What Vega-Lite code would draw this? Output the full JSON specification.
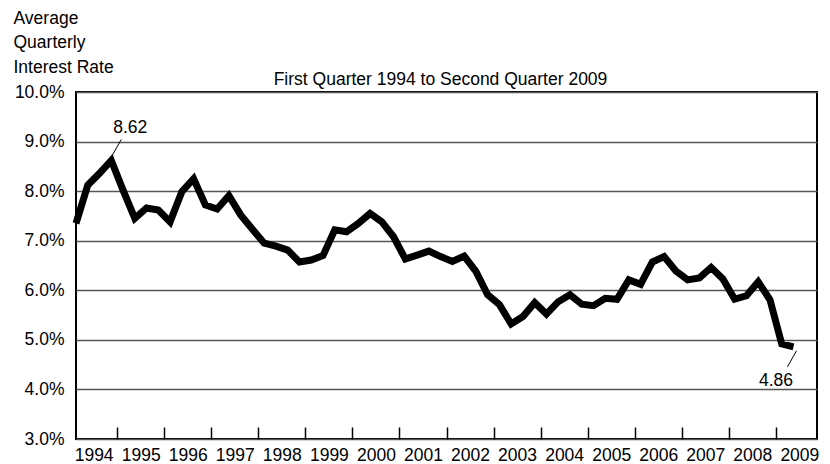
{
  "$schema": "https://vega.github.io/schema/vega-lite/v6.json",
  "width": 741,
  "height": 347,
  "autosize": {"type": "none"},
  "padding": {"left": 76, "top": 92, "right": 13, "bottom": 25},
  "background": "white",
  "config": {
    "font": "Liberation Sans",
    "view": {"stroke": "black", "strokeWidth": 2}
  },
  "title": {
    "text": "First Quarter 1994 to Second Quarter 2009",
    "font": "Liberation Sans",
    "fontSize": 17.5,
    "fontWeight": "normal",
    "color": "black",
    "anchor": "middle",
    "frame": "group",
    "offset": -79,
    "dx": -6
  },
  "datasets": {
    "rates": [
      {"t": 1994.125, "rate": 7.35}, {"t": 1994.375, "rate": 8.12}, {"t": 1994.625, "rate": 8.36}, {"t": 1994.875, "rate": 8.62},
      {"t": 1995.125, "rate": 8.02}, {"t": 1995.375, "rate": 7.45}, {"t": 1995.625, "rate": 7.66}, {"t": 1995.875, "rate": 7.62},
      {"t": 1996.125, "rate": 7.38}, {"t": 1996.375, "rate": 7.99}, {"t": 1996.625, "rate": 8.25}, {"t": 1996.875, "rate": 7.72},
      {"t": 1997.125, "rate": 7.64}, {"t": 1997.375, "rate": 7.91}, {"t": 1997.625, "rate": 7.52}, {"t": 1997.875, "rate": 7.23},
      {"t": 1998.125, "rate": 6.95}, {"t": 1998.375, "rate": 6.89}, {"t": 1998.625, "rate": 6.81}, {"t": 1998.875, "rate": 6.57},
      {"t": 1999.125, "rate": 6.61}, {"t": 1999.375, "rate": 6.70}, {"t": 1999.625, "rate": 7.22}, {"t": 1999.875, "rate": 7.18},
      {"t": 2000.125, "rate": 7.35}, {"t": 2000.375, "rate": 7.55}, {"t": 2000.625, "rate": 7.38}, {"t": 2000.875, "rate": 7.08},
      {"t": 2001.125, "rate": 6.63}, {"t": 2001.375, "rate": 6.71}, {"t": 2001.625, "rate": 6.79}, {"t": 2001.875, "rate": 6.68},
      {"t": 2002.125, "rate": 6.58}, {"t": 2002.375, "rate": 6.69}, {"t": 2002.625, "rate": 6.38}, {"t": 2002.875, "rate": 5.91},
      {"t": 2003.125, "rate": 5.71}, {"t": 2003.375, "rate": 5.32}, {"t": 2003.625, "rate": 5.47}, {"t": 2003.875, "rate": 5.75},
      {"t": 2004.125, "rate": 5.52}, {"t": 2004.375, "rate": 5.77}, {"t": 2004.625, "rate": 5.91}, {"t": 2004.875, "rate": 5.72},
      {"t": 2005.125, "rate": 5.69}, {"t": 2005.375, "rate": 5.84}, {"t": 2005.625, "rate": 5.82}, {"t": 2005.875, "rate": 6.21},
      {"t": 2006.125, "rate": 6.12}, {"t": 2006.375, "rate": 6.57}, {"t": 2006.625, "rate": 6.68}, {"t": 2006.875, "rate": 6.39},
      {"t": 2007.125, "rate": 6.21}, {"t": 2007.375, "rate": 6.25}, {"t": 2007.625, "rate": 6.46}, {"t": 2007.875, "rate": 6.23},
      {"t": 2008.125, "rate": 5.82}, {"t": 2008.375, "rate": 5.89}, {"t": 2008.625, "rate": 6.17}, {"t": 2008.875, "rate": 5.81},
      {"t": 2009.125, "rate": 4.92}, {"t": 2009.375, "rate": 4.86}
    ]
  },
  "layer": [
    {
      "data": {"name": "rates"},
      "mark": {"type": "line", "color": "black", "strokeWidth": 7, "strokeJoin": "miter", "strokeCap": "butt"},
      "encoding": {
        "x": {
          "field": "t",
          "type": "quantitative",
          "scale": {"domain": [1994.125, 2009.875], "nice": false, "zero": false},
          "axis": {
            "values": [1994.5, 1995.5, 1996.5, 1997.5, 1998.5, 1999.5, 2000.5, 2001.5, 2002.5, 2003.5, 2004.5, 2005.5, 2006.5, 2007.5, 2008.5, 2009.5],
            "labelExpr": "'' + floor(datum.value)",
            "title": null,
            "grid": false,
            "domain": false,
            "tickSize": -12,
            "tickColor": "black",
            "tickWidth": 1.5,
            "tickOffset": 23.53,
            "labelOffset": -23.53,
            "tickOpacity": {"condition": {"test": "datum.value > 2009", "value": 0}, "value": 1},
            "labelFont": "Liberation Sans",
            "labelFontSize": 17.5,
            "labelColor": "black",
            "labelPadding": 19,
            "labelFlush": false,
            "labelOverlap": false
          }
        },
        "y": {
          "field": "rate",
          "type": "quantitative",
          "scale": {"domain": [3, 10], "nice": false, "zero": false},
          "axis": {
            "values": [3, 4, 5, 6, 7, 8, 9, 10],
            "labelExpr": "format(datum.value, '.1f') + '%'",
            "ticks": false,
            "domain": false,
            "grid": true,
            "gridColor": "#555555",
            "gridWidth": 1.5,
            "labelPadding": 12,
            "labelFont": "Liberation Sans",
            "labelFontSize": 17.5,
            "labelColor": "black",
            "labelFlush": false,
            "title": ["Average", "Quarterly", "Interest Rate"],
            "titleFont": "Liberation Sans",
            "titleAngle": 0,
            "titleAlign": "left",
            "titleBaseline": "top",
            "titleX": -63,
            "titleY": -83,
            "titleFontSize": 17.5,
            "titleFontWeight": "normal",
            "titleLineHeight": 24.5,
            "titleColor": "black"
          }
        }
      }
    },
    {
      "data": {"values": [{"t": 1994.875, "rate": 8.62, "label": "8.62"}]},
      "mark": {"type": "text", "dx": 19, "dy": -32, "fontSize": 17.5, "color": "black", "font": "Liberation Sans"},
      "encoding": {
        "x": {"field": "t", "type": "quantitative"},
        "y": {"field": "rate", "type": "quantitative"},
        "text": {"field": "label"}
      }
    },
    {
      "data": {"values": [{"t": 1994.875, "rate": 8.62}]},
      "mark": {"type": "rule", "color": "black", "strokeWidth": 1, "xOffset": 1, "yOffset": -5, "x2Offset": 10, "y2Offset": -21},
      "encoding": {
        "x": {"field": "t", "type": "quantitative"},
        "y": {"field": "rate", "type": "quantitative"},
        "x2": {"field": "t"},
        "y2": {"field": "rate"}
      }
    },
    {
      "data": {"values": [{"t": 2009.375, "rate": 4.86, "label": "4.86"}]},
      "mark": {"type": "text", "dx": -17.5, "dy": 34, "fontSize": 17.5, "color": "black", "font": "Liberation Sans"},
      "encoding": {
        "x": {"field": "t", "type": "quantitative"},
        "y": {"field": "rate", "type": "quantitative"},
        "text": {"field": "label"}
      }
    },
    {
      "data": {"values": [{"t": 2009.375, "rate": 4.86}]},
      "mark": {"type": "rule", "color": "black", "strokeWidth": 1, "xOffset": 3, "yOffset": 4, "x2Offset": -6, "y2Offset": 20},
      "encoding": {
        "x": {"field": "t", "type": "quantitative"},
        "y": {"field": "rate", "type": "quantitative"},
        "x2": {"field": "t"},
        "y2": {"field": "rate"}
      }
    }
  ]
}
